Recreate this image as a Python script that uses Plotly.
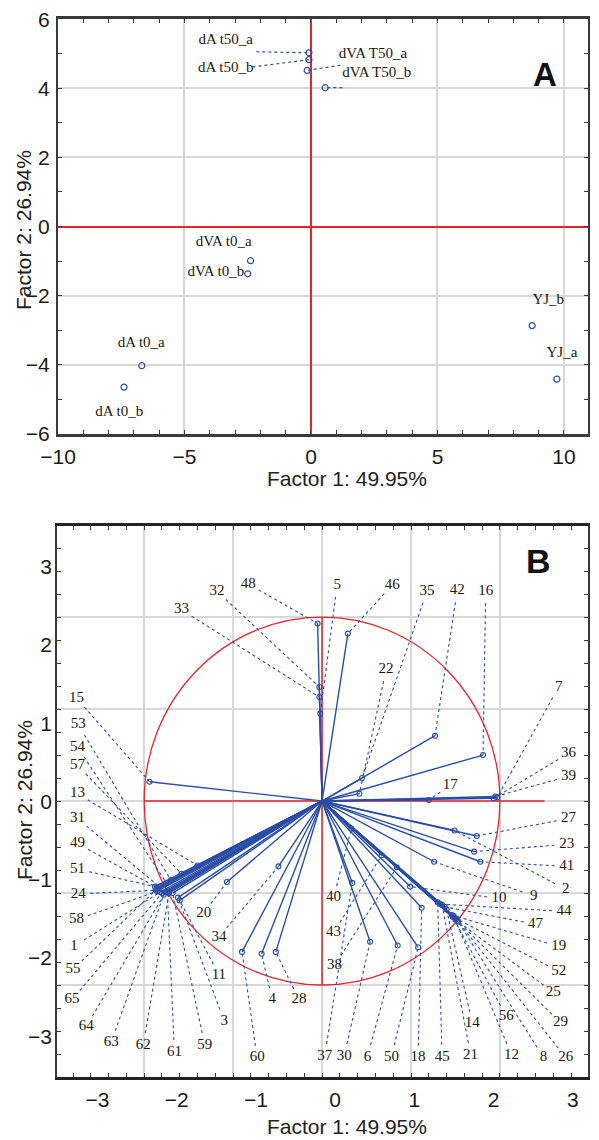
import math
import plotly.graph_objects as go

# ---------------- Panel A: scores ----------------
A_names = ["dA t50_a", "dA t50_b", "dVA T50_a", "dVA T50_b", "dVA t0_a",
           "dVA t0_b", "YJ_b", "YJ_a", "dA t0_a", "dA t0_b"]
A_f1 = [-0.08, -0.08, -0.15, 0.56, -2.39, -2.50, 8.74, 9.72, -6.69, -7.39]
A_f2 = [5.03, 4.83, 4.52, 4.02, -0.99, -1.37, -2.87, -4.42, -4.03, -4.65]
# label anchor positions (data units)
A_lab_x = [-3.37, -3.37, 2.45, 2.60, -3.45, -3.76, 9.38, 9.92, -6.71, -7.58]
A_lab_y = [5.40, 4.57, 5.00, 4.43, -0.46, -1.33, -2.14, -3.68, -3.39, -5.37]
# leader starting points (None = no leader)
A_lead_x = [-2.16, -2.31, 1.16, 1.24, None, None, None, None, None, None]
A_lead_y = [5.06, 4.62, 4.67, 4.02, None, None, None, None, None, None]

# ---------------- Panel B: loadings ----------------
B_names = ["15", "53", "54", "57", "13", "31", "49", "51", "24", "58", "1", "55", "65",
           "64", "63", "62", "61", "59", "3", "11", "34", "20", "60", "4", "28",
           "33", "32", "48", "5", "46", "22", "35", "42", "16",
           "7", "36", "39", "17", "27", "23", "41", "2", "9", "10", "44", "47", "19",
           "52", "25", "29", "56", "14", "26", "8", "12", "21", "45", "18", "50",
           "6", "30", "37", "40", "43", "38"]
B_f1 = [-1.94, -1.70, -1.75, -1.58, -1.40, -1.83, -1.86, -1.88, -1.87, -1.85, -1.82, -1.86, -1.80,
        -1.76, -1.78, -1.72, -1.74, -1.68, -1.62, -1.60, -0.49, -1.07, -0.90, -0.68, -0.52,
        -0.03, -0.03, -0.05, -0.02, 0.29, 0.42, 0.45, 1.27, 1.81,
        1.97, 1.93, 1.95, 1.20, 1.74, 1.71, 1.78, 1.49, 1.26, 0.99, 1.33, 1.38, 1.46,
        1.49, 1.50, 1.52, 1.47, 1.40, 1.53, 1.51, 1.48, 1.35, 1.30, 1.12, 1.08,
        0.85, 0.54, 0.34, 0.33, 0.67, 0.84]
B_f2 = [0.21, -0.86, -0.89, -0.79, -0.70, -0.93, -0.94, -0.93, -0.97, -0.98, -0.99, -0.96, -1.00,
        -0.99, -1.02, -1.00, -0.98, -1.00, -1.05, -1.08, -0.71, -0.88, -1.64, -1.66, -1.64,
        1.13, 1.24, 1.93, 0.95, 1.82, 0.08, 0.25, 0.71, 0.50,
        0.04, 0.03, 0.05, 0.01, -0.38, -0.55, -0.66, -0.32, -0.66, -0.93, -1.12, -1.15, -1.24,
        -1.27, -1.29, -1.30, -1.26, -1.18, -1.31, -1.28, -1.25, -1.13, -1.10, -1.16, -1.59,
        -1.57, -1.53, -0.89, -0.30, -0.59, -0.72]
B_lab_x = [-2.76, -2.74, -2.75, -2.75, -2.75, -2.75, -2.75, -2.75, -2.74, -2.76, -2.79, -2.80, -2.81,
           -2.65, -2.37, -2.01, -1.66, -1.32, -1.10, -1.16, -1.16, -1.33, -0.73, -0.56, -0.26,
           -1.58, -1.18, -0.83, 0.17, 0.79, 0.72, 1.18, 1.52, 1.84,
           2.66, 2.77, 2.77, 1.44, 2.77, 2.75, 2.75, 2.74, 2.38, 1.99, 2.72, 2.40, 2.66,
           2.66, 2.60, 2.68, 2.07, 1.69, 2.74, 2.49, 2.13, 1.67, 1.35, 1.08, 0.78,
           0.51, 0.25, 0.03, 0.13, 0.13, 0.14]
B_lab_y = [1.12, 0.83, 0.59, 0.39, 0.08, -0.19, -0.46, -0.74, -1.01, -1.29, -1.58, -1.83, -2.16,
           -2.45, -2.62, -2.65, -2.73, -2.65, -2.39, -1.89, -1.48, -1.22, -2.79, -2.16, -2.16,
           2.08, 2.28, 2.36, 2.35, 2.35, 1.43, 2.28, 2.29, 2.28,
           1.24, 0.52, 0.27, 0.17, -0.19, -0.47, -0.71, -0.96, -1.03, -1.06, -1.20, -1.34, -1.58,
           -1.85, -2.08, -2.41, -2.34, -2.42, -2.79, -2.79, -2.76, -2.76, -2.78, -2.79, -2.78,
           -2.78, -2.77, -2.77, -1.05, -1.43, -1.79]

B_x_ticks = [-3, -2, -1, 0, 1, 2, 3]
B_y_ticks = [-3, -2, -1, 0, 1, 2, 3]
X_TITLE = "Factor 1: 49.95%"
Y_TITLE = "Factor 2: 26.94%"

# ---------------- styles / layout geometry ----------------
W, H = 599, 1140
BLUE = "#2a4ea6"
RED = "#e3262e"
GRID = "#d8d8d8"
AX = "#3a3a3a"
SANS = "Liberation Sans, Arial, sans-serif"
SERIF = "Liberation Serif, Times New Roman, serif"

A_dom_x = [58 / W, 588 / W]
A_dom_y = [1 - 433.7 / H, 1 - 19.3 / H]
B_dom_x = [57 / W, 588 / W]
B_dom_y = [1 - 1077 / H, 1 - 526 / H]

fig = go.Figure()

# ---- Panel A traces ----
lx, ly = [], []
for i in range(len(A_names)):
    if A_lead_x[i] is not None:
        lx += [A_lead_x[i], A_f1[i], None]
        ly += [A_lead_y[i], A_f2[i], None]
fig.add_trace(go.Scatter(x=lx, y=ly, mode="lines", xaxis="x", yaxis="y",
                         line=dict(color=BLUE, width=1.2, dash="dot"),
                         hoverinfo="skip", showlegend=False))
fig.add_trace(go.Scatter(x=A_f1, y=A_f2, mode="markers", xaxis="x", yaxis="y",
                         marker=dict(symbol="circle-open", size=6, color=BLUE,
                                     line=dict(width=1.2, color=BLUE)),
                         showlegend=False))
fig.add_trace(go.Scatter(x=A_lab_x, y=A_lab_y, mode="text", text=A_names,
                         xaxis="x", yaxis="y", textposition="middle center",
                         textfont=dict(family=SERIF, size=15, color="#24180e"),
                         hoverinfo="skip", showlegend=False))

# ---- Panel B traces ----
sx = (B_dom_x[1] - B_dom_x[0]) * W / (2.99 + 2.98)
sy = (B_dom_y[1] - B_dom_y[0]) * H / (2.99 + 3.0)
vx, vy, gx, gy = [], [], [], []
for i in range(len(B_names)):
    vx += [0, B_f1[i], None]
    vy += [0, B_f2[i], None]
    dxp = (B_f1[i] - B_lab_x[i]) * sx
    dyp = (B_f2[i] - B_lab_y[i]) * sy
    d = math.hypot(dxp, dyp)
    t = min(12.0 / d, 0.5) if d > 0 else 0
    gx += [B_lab_x[i] + (B_f1[i] - B_lab_x[i]) * t, B_f1[i], None]
    gy += [B_lab_y[i] + (B_f2[i] - B_lab_y[i]) * t, B_f2[i], None]

fig.add_trace(go.Scatter(x=gx, y=gy, mode="lines", xaxis="x2", yaxis="y2",
                         line=dict(color=BLUE, width=1.1, dash="dot"),
                         hoverinfo="skip", showlegend=False))
fig.add_trace(go.Scatter(x=vx, y=vy, mode="lines", xaxis="x2", yaxis="y2",
                         line=dict(color=BLUE, width=1.4),
                         hoverinfo="skip", showlegend=False))
fig.add_trace(go.Scatter(x=B_f1, y=B_f2, mode="markers", xaxis="x2", yaxis="y2",
                         marker=dict(symbol="circle-open", size=5, color=BLUE,
                                     line=dict(width=1.1, color=BLUE)),
                         showlegend=False))
fig.add_trace(go.Scatter(x=B_lab_x, y=B_lab_y, mode="text", text=B_names,
                         xaxis="x2", yaxis="y2", textposition="middle center",
                         textfont=dict(family=SERIF, size=15, color="#24180e"),
                         hoverinfo="skip", showlegend=False))
# invisible trace to activate the tick-label axes of panel B
fig.add_trace(go.Scatter(x=[0], y=[0], xaxis="x3", yaxis="y3", mode="markers",
                         marker=dict(opacity=0), hoverinfo="skip", showlegend=False))

tickfont = dict(family=SANS, size=21, color="#1a1a1a")

fig.update_layout(
    width=W, height=H, margin=dict(l=0, r=0, t=0, b=0, autoexpand=False),
    paper_bgcolor="white", plot_bgcolor="white", showlegend=False,
    xaxis=dict(domain=A_dom_x, anchor="y", range=[-10, 10.95], automargin=False,
               tickvals=[-10, -5, 0, 5, 10], showgrid=True, gridcolor=GRID, gridwidth=1.5,
               zeroline=True, zerolinecolor=RED, zerolinewidth=1.5,
               showline=True, linecolor=AX, linewidth=2.5, mirror="ticks",
               ticks="inside", ticklen=4, tickcolor=AX,
               minor=dict(dtick=1, ticks="inside", ticklen=4, tickcolor=AX, showgrid=False),
               tickfont=tickfont, ticklabelstandoff=2),
    yaxis=dict(domain=A_dom_y, anchor="x", range=[-6, 6], dtick=2, automargin=False,
               showgrid=True, gridcolor=GRID, gridwidth=1.5,
               zeroline=True, zerolinecolor=RED, zerolinewidth=1.5,
               showline=True, linecolor=AX, linewidth=2, mirror="ticks",
               ticks="inside", ticklen=4, tickcolor=AX,
               minor=dict(dtick=1, ticks="inside", ticklen=4, tickcolor=AX, showgrid=False),
               tickfont=tickfont, ticklabelstandoff=2),
    xaxis2=dict(domain=B_dom_x, anchor="y2", range=[-2.98, 2.99], dtick=1, automargin=False,
                showgrid=True, gridcolor=GRID, gridwidth=1.5, zeroline=False,
                showline=True, linecolor="#222", linewidth=2.5, mirror="ticks",
                ticks="inside", ticklen=4, tickcolor=AX, showticklabels=False,
                minor=dict(dtick=0.2, ticks="inside", ticklen=4, tickcolor=AX, showgrid=False)),
    yaxis2=dict(domain=B_dom_y, anchor="x2", range=[-3.0, 2.99], dtick=1, automargin=False,
                showgrid=True, gridcolor=GRID, gridwidth=1.5, zeroline=False,
                showline=True, linecolor=AX, linewidth=2, mirror="ticks",
                ticks="inside", ticklen=4, tickcolor=AX, showticklabels=False,
                minor=dict(dtick=0.25, ticks="inside", ticklen=4, tickcolor=AX, showgrid=False)),
    xaxis3=dict(overlaying="x2", anchor="y3", range=[-3.51, 3.19], tickvals=B_x_ticks,
                automargin=False, showgrid=False, zeroline=False, showline=False, ticks="",
                tickfont=tickfont, ticklabelstandoff=8, side="bottom"),
    yaxis3=dict(overlaying="y2", anchor="x3", range=[-3.52, 3.52], tickvals=B_y_ticks,
                automargin=False, showgrid=False, zeroline=False, showline=False, ticks="",
                tickfont=tickfont, ticklabelstandoff=4, side="left"),
)

# Panel B correlation circle and red axes
fig.add_shape(type="circle", xref="x2", yref="y2", x0=-2, x1=2, y0=-2, y1=2,
              line=dict(color=RED, width=1.3), layer="between")
fig.add_shape(type="line", xref="x2", yref="y2", x0=-2, x1=2.5, y0=0, y1=0,
              line=dict(color=RED, width=1.5), layer="between")
fig.add_shape(type="line", xref="x2", yref="y2", x0=0, x1=0, y0=-2, y1=2,
              line=dict(color=RED, width=1.5), layer="between")

title_font = dict(family=SANS, size=21, color="#222")
for yy in (479, 1126):
    fig.add_annotation(x=347 / W, y=1 - yy / H, xref="paper", yref="paper",
                       text=X_TITLE, showarrow=False, font=title_font,
                       xanchor="center", yanchor="middle")
for yy in (230, 800):
    fig.add_annotation(x=24 / W, y=1 - yy / H, xref="paper", yref="paper",
                       text=Y_TITLE, showarrow=False, font=title_font, textangle=-90,
                       xanchor="center", yanchor="middle")
fig.add_annotation(x=559 / W, y=1 - 54 / H, xref="paper", yref="paper", text="<b>A</b>",
                   showarrow=False, font=dict(family=SANS, size=33, color="#111"))
fig.add_annotation(x=553 / W, y=1 - 561 / H, xref="paper", yref="paper", text="<b>B</b>",
                   showarrow=False, font=dict(family=SANS, size=34, color="#111"))

fig.write_html(
    "out.html",
    config={"displayModeBar": False},
    post_script="document.body.style.margin='0px';document.body.style.overflow='hidden';",
)
